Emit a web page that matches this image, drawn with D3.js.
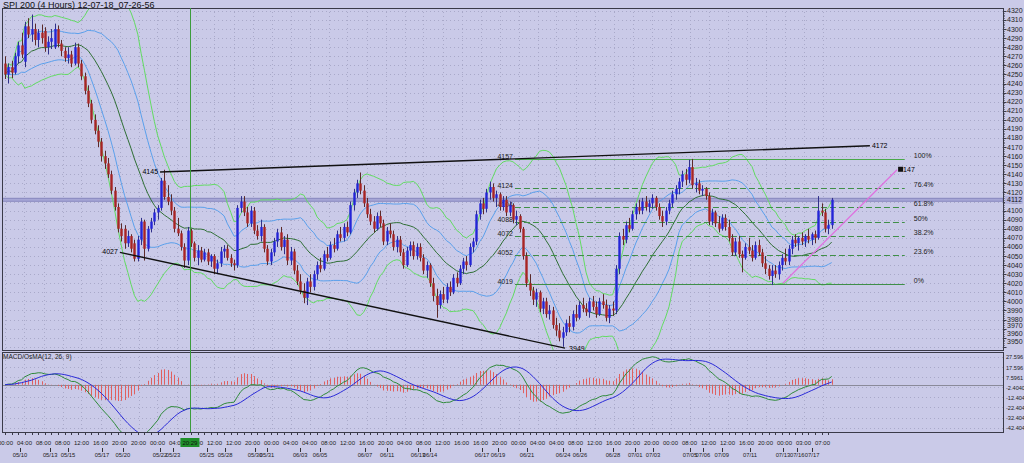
<!DOCTYPE html>
<html><head><meta charset="utf-8">
<script src="https://cdn.jsdelivr.net/npm/d3@7"></script>
<style>body{margin:0;background:#cacae8;}svg{display:block;font-family:"Liberation Sans",Arial,sans-serif;}</style>
</head><body><svg id="c" width="1024" height="463"></svg>
<script>
const opens=[4262,4250,4258,4252,4270,4282,4264,4303,4294,4300,
4288,4296,4298,4280,4286,4280,4300,4284,4276,4268,
4272,4262,4280,4262,4248,4232,4218,4200,4188,4176,
4160,4152,4140,4122,4104,4080,4080,4064,4072,4064,
4047,4068,4088,4058,4080,4088,4098,4103,4133,4115,
4110,4100,4080,4075,4060,4045,4078,4064,4048,4056,
4046,4054,4044,4050,4036,4042,4055,4058,4048,4042,
4040,4103,4110,4098,4086,4100,4078,4072,4082,4058,
4044,4054,4066,4076,4060,4068,4045,4055,4034,4022,
4012,4004,4022,4016,4030,4040,4036,4052,4048,4062,
4058,4074,4070,4082,4076,4106,4120,4130,4122,4108,
4096,4088,4080,4094,4086,4066,4078,4074,4060,4068,
4054,4040,4056,4062,4050,4060,4048,4034,4040,4020,
4006,3996,4008,4002,4016,4010,4026,4020,4036,4044,
4040,4060,4066,4096,4108,4102,4120,4126,4114,4118,
4104,4112,4098,4106,4090,4094,4080,4050,4020,4012,
4002,4010,3992,4000,3986,3990,3974,3968,3960,3966,
3976,3972,3986,3982,3996,3992,3988,4000,3994,3986,
4000,3996,3982,3992,3990,4036,4072,4068,4084,4080,
4096,4104,4100,4110,4104,4108,4114,4104,4094,4088,
4100,4108,4118,4124,4132,4140,4134,4148,4128,4130,
4122,4124,4116,4088,4098,4086,4080,4092,4082,4070,
4054,4066,4052,4048,4060,4056,4048,4062,4054,4042,
4036,4028,4034,4030,4040,4048,4044,4058,4068,4064,
4070,4066,4072,4068,4074,4070,4100,4098,4080,4084];
const highs=[4270,4262,4265,4274,4286,4296,4308,4312,4316,4306,
4300,4305,4302,4292,4300,4306,4304,4288,4280,4280,
4276,4285,4284,4266,4252,4238,4222,4206,4194,4180,
4166,4158,4144,4126,4108,4086,4084,4078,4074,4068,
4072,4092,4090,4083,4092,4102,4106,4136,4145,4128,
4118,4104,4092,4078,4064,4082,4080,4066,4062,4060,
4058,4058,4052,4052,4046,4060,4062,4062,4052,4046,
4106,4116,4116,4104,4105,4104,4084,4090,4085,4062,
4058,4070,4080,4082,4072,4074,4060,4058,4040,4030,
4020,4026,4030,4034,4044,4048,4056,4060,4066,4070,
4078,4082,4086,4088,4110,4124,4134,4142,4128,4114,
4102,4094,4098,4100,4090,4082,4086,4078,4072,4072,
4058,4060,4066,4066,4064,4064,4052,4044,4042,4026,
4014,4012,4016,4020,4022,4030,4032,4040,4048,4050,
4064,4070,4100,4112,4114,4124,4132,4130,4122,4120,
4116,4116,4110,4108,4100,4096,4082,4054,4030,4016,
4014,4012,4004,4004,3996,3994,3982,3976,3972,3980,
3984,3990,3996,4000,4004,3998,4004,4006,4000,4004,
4008,4002,3996,4000,4040,4076,4080,4088,4092,4100,
4108,4112,4114,4116,4112,4118,4116,4108,4100,4104,
4112,4122,4128,4136,4144,4146,4156,4157,4136,4134,
4128,4126,4120,4102,4100,4094,4096,4096,4090,4074,
4070,4072,4056,4064,4070,4062,4066,4068,4058,4050,
4040,4040,4040,4044,4052,4058,4062,4072,4074,4072,
4076,4074,4080,4076,4078,4116,4108,4102,4090,4114];
const lows=[4245,4240,4246,4250,4262,4268,4258,4290,4286,4282,
4280,4284,4275,4272,4278,4278,4280,4270,4264,4262,
4258,4260,4258,4244,4228,4214,4196,4184,4170,4154,
4146,4136,4118,4100,4076,4066,4058,4060,4054,4044,
4044,4062,4045,4055,4076,4084,4090,4100,4112,4106,
4095,4076,4072,4056,4037,4040,4060,4044,4040,4043,
4044,4040,4038,4030,4030,4038,4048,4045,4038,4034,
4037,4098,4094,4082,4082,4074,4068,4066,4054,4040,
4040,4050,4060,4056,4052,4040,4040,4030,4018,4008,
3998,3996,4010,4012,4024,4032,4034,4044,4046,4054,
4056,4066,4066,4072,4074,4100,4114,4118,4104,4092,
4084,4076,4078,4082,4062,4062,4070,4056,4054,4050,
4036,4038,4050,4046,4046,4044,4030,4026,4016,4000,
3982,3992,3998,3998,4006,4008,4016,4018,4030,4034,
4038,4054,4062,4090,4096,4098,4112,4110,4104,4100,
4100,4094,4094,4086,4084,4076,4046,4016,4006,3996,
3994,3988,3986,3982,3980,3970,3962,3956,3950,3962,
3966,3968,3978,3980,3988,3984,3982,3990,3982,3984,
3992,3978,3976,3984,3986,4030,4062,4064,4076,4078,
4090,4096,4096,4100,4098,4102,4100,4090,4082,4084,
4096,4104,4112,4118,4126,4128,4130,4124,4120,4118,
4116,4112,4084,4084,4082,4076,4078,4078,4066,4050,
4050,4048,4032,4046,4052,4044,4046,4050,4038,4030,
4024,4018,4026,4024,4034,4040,4040,4052,4060,4056,
4062,4060,4064,4062,4064,4068,4094,4076,4074,4080];
const closes=[4250,4258,4252,4270,4282,4272,4303,4294,4300,4288,
4296,4290,4280,4286,4290,4300,4284,4276,4268,4272,
4262,4280,4262,4248,4232,4218,4200,4188,4176,4160,
4152,4140,4122,4104,4080,4072,4064,4072,4058,4047,
4068,4088,4058,4080,4088,4098,4103,4133,4115,4110,
4100,4080,4075,4060,4045,4078,4064,4048,4056,4046,
4054,4044,4050,4036,4042,4055,4058,4048,4042,4040,
4103,4110,4098,4086,4100,4078,4072,4082,4058,4044,
4054,4066,4076,4060,4068,4045,4055,4034,4022,4012,
4004,4022,4016,4030,4040,4036,4052,4048,4062,4058,
4074,4070,4082,4076,4106,4120,4130,4122,4108,4096,
4088,4080,4094,4086,4066,4078,4074,4060,4068,4054,
4040,4056,4062,4050,4060,4048,4034,4040,4020,4006,
3996,4008,4002,4016,4010,4026,4020,4036,4044,4040,
4060,4066,4096,4108,4102,4120,4126,4114,4118,4104,
4112,4098,4106,4090,4094,4080,4050,4020,4012,4002,
4010,3992,4000,3986,3990,3974,3968,3960,3966,3976,
3972,3986,3982,3996,3992,3988,4000,3994,3986,4000,
3996,3982,3992,3990,4036,4072,4068,4084,4080,4096,
4104,4100,4110,4104,4108,4114,4104,4094,4088,4100,
4108,4118,4124,4132,4140,4134,4148,4128,4130,4122,
4124,4116,4088,4098,4086,4080,4092,4082,4070,4054,
4066,4052,4048,4060,4056,4048,4062,4054,4042,4036,
4028,4034,4030,4040,4048,4044,4058,4068,4064,4070,
4066,4072,4068,4074,4070,4100,4098,4080,4084,4112];

const priceTicks=d3.range(3950,4321,10);
const lastPrice=4112;
const macdTicks=[27.596,17.596,7.5961,-2.404,-12.404,-22.404,-32.404,-42.404];
const macdTickLabels=["27.596","17.596","7.5961","-2.4040","-12.404","-22.404","-32.404","-42.404"];
const timeLabels=["00:00","04:00","08:00","08:00","12:00","16:00","20:00","20:00","00:00","04:00","08:00","12:00","12:00","20:00","00:00","04:00","04:00","08:00","12:00","16:00","20:00","04:00","08:00","12:00","16:00","16:00","20:00","00:00","04:00","04:00","08:00","12:00","16:00","20:00","20:00","00:00","08:00","12:00","12:00","16:00","20:00","00:00","03:00","07:00"];
const timeLabelIdx=[0.15,5.87,11.6,17.32,23.04,28.77,34.49,40.21,45.93,51.66,57.38,63.1,68.83,74.55,80.27,86,91.72,97.44,103.16,108.89,114.61,120.33,126.05,131.78,137.5,143.22,148.95,154.67,160.39,166.11,171.84,177.56,183.28,189.01,194.73,200.45,206.17,211.9,217.62,223.34,229.07,234.79,240.51,246.23];
const dateLabels=["05/10","05/13","05/15","05/17","05/20","05/22","05/23","05/25","05/28","05/30","05/31","06/03","06/05","06/07","06/11","06/13","06/14","06/17","06/19","06/21","06/24","06/26","06/28","07/01","07/03","07/05","07/06","07/09","07/11","07/13","07/16","07/17"];
const dateLabelIdx=[4.5,13.6,19,29.2,35.5,46.7,50.6,60.8,66.3,75.3,78.9,88.9,94.9,108.4,115.1,124.4,128,143.7,148.5,157.2,168.1,173.2,183.1,189.8,195.2,206.3,210.2,215.9,224.4,234.3,238.6,243.1];
const cursorIdx=55.7, cursorLabel="20:29";
const fibLow=4019, fibHigh=4157, fibStartIdx=153.6, fibEndIdx=271;
const fibRatios=[1,0.764,0.618,0.5,0.382,0.236,0];
const fibRatioLabels=["100%","76.4%","61.8%","50%","38.2%","23.6%","0%"];
const fibPriceLabels=["4157","4124","4104","4088","4072","4052","4019"];
const upperTrend=[[46.7,4142.5],[260.5,4171.5]], upperTrendLabels=["4145","4172"];
const lowerTrend=[[34.6,4054],[168.7,3948.5]], lowerTrendLabels=["4027","3949"];
const pinkTrend=[[234.3,4020],[268.7,4145]], pinkLabel="147";
const title="SPI 200 (4 Hours) 12-07-18_07-26-56";
const macdTitle="MACD/OsMA(12, 26, 9)";

const W=1024,H=463, plotL=2, plotR=1003, mainT=8, mainB=350, macdT=352, macdB=432;
const N=closes.length;
const x=d3.scaleLinear().domain([0,249]).range([5,831.7]);
const y=d3.scaleLinear().domain([3950,4320]).range([346.8,10.9]);
const ym=d3.scaleLinear().domain([-42.404,27.596]).range([427.6,356.9]);
const bg="#cacae8", gridC="#a9a9c9", frameC="#3a3a48";
const svg=d3.select("#c");
svg.append("rect").attr("width",W).attr("height",H).attr("fill",bg);
const defs=svg.append("defs");
defs.append("clipPath").attr("id","cm").append("rect").attr("x",plotL).attr("y",mainT).attr("width",plotR-plotL).attr("height",mainB-mainT);
defs.append("clipPath").attr("id","cd").append("rect").attr("x",plotL).attr("y",macdT).attr("width",plotR-plotL).attr("height",macdB-macdT);

const bb=closes.map((c,i)=>{const w=closes.slice(Math.max(0,i-19),i+1);const m=d3.mean(w);const s=Math.sqrt(d3.mean(w,v=>(v-m)*(v-m)));return {i,m,s};});
function ema(arr,n){const a=2/(n+1);const out=[];arr.forEach((v,i)=>out.push(i?a*v+(1-a)*out[i-1]:v));return out;}
const e12=ema(closes,12), e26=ema(closes,26);
const macd=closes.map((c,i)=>e12[i]-e26[i]);
const signal=macd.map((v,i)=>d3.mean(macd.slice(Math.max(0,i-8),i+1)));
const osma=macd.map((v,i)=>v-signal[i]);

const gm=svg.append("g").attr("clip-path","url(#cm)");
gm.selectAll(".hg").data(priceTicks).join("line").attr("x1",plotL).attr("x2",plotR)
 .attr("y1",d=>Math.round(y(d))+0.5).attr("y2",d=>Math.round(y(d))+0.5)
 .attr("stroke",gridC).attr("stroke-dasharray","1,3");
gm.selectAll(".vg").data(timeLabelIdx).join("line").attr("x1",d=>Math.round(x(d))+0.5).attr("x2",d=>Math.round(x(d))+0.5)
 .attr("y1",mainT).attr("y2",mainB).attr("stroke",gridC).attr("stroke-dasharray","1,3");
gm.append("rect").attr("x",plotL).attr("y",y(lastPrice)-1.5).attr("width",plotR-plotL).attr("height",3)
 .attr("fill","#a6a6d6").attr("stroke","#7c7cb6").attr("stroke-width",0.8);
const ln=(f)=>d3.line().x(d=>x(d.i)).y(f);
[[d=>y(d.m+2*d.s),"#62dc62"],[d=>y(d.m-2*d.s),"#62dc62"],[d=>y(d.m+d.s),"#5aa0ec"],[d=>y(d.m-d.s),"#5aa0ec"],[d=>y(d.m),"#2f6f35"]]
 .forEach(([f,c])=>gm.append("path").datum(bb).attr("d",ln(f)).attr("fill","none").attr("stroke",c).attr("stroke-width",1));
fibRatios.forEach((r,k)=>{const p=fibLow+(fibHigh-fibLow)*r;const yy=Math.round(y(p))+0.5;
 gm.append("line").attr("x1",x(fibStartIdx)).attr("x2",x(fibEndIdx)).attr("y1",yy).attr("y2",yy)
  .attr("stroke",r===1?"#4aa84a":"#3f8f48").attr("stroke-width",1).attr("stroke-dasharray",r===1||r===0?null:"6,3");
 gm.append("text").attr("x",x(fibEndIdx)+9).attr("y",yy-2).attr("font-size",7).attr("fill","#222").text(fibRatioLabels[k]);
 gm.append("text").attr("x",x(fibStartIdx)-2).attr("y",yy-1).attr("text-anchor","end").attr("font-size",7).attr("fill","#222").text(fibPriceLabels[k]);
});
const idx=d3.range(N);
gm.selectAll(".wk").data(idx).join("line").attr("x1",i=>Math.round(x(i))+0.5).attr("x2",i=>Math.round(x(i))+0.5)
 .attr("y1",i=>y(highs[i])).attr("y2",i=>y(lows[i])).attr("stroke",i=>closes[i]>=opens[i]?"#30308a":"#5a2a2a").attr("stroke-width",1);
gm.selectAll(".bd").data(idx).join("rect").attr("x",i=>Math.round(x(i))-0.7).attr("width",2.4)
 .attr("y",i=>Math.min(y(opens[i]),y(closes[i]))).attr("height",i=>Math.max(1,Math.abs(y(opens[i])-y(closes[i]))))
 .attr("fill",i=>closes[i]>=opens[i]?"#2424d8":"#a82424");
function trend(pts,col,w){gm.append("line").attr("x1",x(pts[0][0])).attr("y1",y(pts[0][1])).attr("x2",x(pts[1][0])).attr("y2",y(pts[1][1])).attr("stroke",col).attr("stroke-width",w);}
trend(upperTrend,"#111",1.4); trend(lowerTrend,"#111",1.4); trend(pinkTrend,"#e070e0",1.2);
gm.append("text").attr("x",x(upperTrend[0][0])-2).attr("y",y(upperTrend[0][1])+2).attr("text-anchor","end").attr("font-size",7).text(upperTrendLabels[0]);
gm.append("text").attr("x",x(upperTrend[1][0])+2).attr("y",y(upperTrend[1][1])+2).attr("font-size",7).text(upperTrendLabels[1]);
gm.append("text").attr("x",x(lowerTrend[0][0])-2).attr("y",y(lowerTrend[0][1])+2).attr("text-anchor","end").attr("font-size",7).text(lowerTrendLabels[0]);
gm.append("text").attr("x",x(lowerTrend[1][0])+4).attr("y",y(lowerTrend[1][1])+3).attr("font-size",7).text(lowerTrendLabels[1]);
gm.append("rect").attr("x",x(pinkTrend[1][0])+1).attr("y",y(pinkTrend[1][1])-3).attr("width",5).attr("height",5).attr("fill","#111");
gm.append("text").attr("x",x(pinkTrend[1][0])+6).attr("y",y(pinkTrend[1][1])+2).attr("font-size",7).text(pinkLabel);
svg.append("rect").attr("x",plotL+0.5).attr("y",mainT+0.5).attr("width",plotR-plotL).attr("height",mainB-mainT).attr("fill","none").attr("stroke",frameC);
svg.append("text").attr("x",3).attr("y",7.5).attr("font-size",9).attr("fill","#111").text(title);
const ga=svg.append("g");
ga.selectAll(".pt").data(d3.range(3950,4321,2)).join("line").attr("x1",plotR+0.5).attr("x2",d=>plotR+(d%10===0?3.5:1.5))
 .attr("y1",d=>Math.round(y(d))+0.5).attr("y2",d=>Math.round(y(d))+0.5).attr("stroke",frameC);
const labY=d=>d===3970?325.5:d===3960?333.5:d===3950?341.5:y(d);
ga.selectAll(".pl").data(priceTicks).join("text").attr("x",plotR+4).attr("y",d=>labY(d)+2.5).attr("font-size",7).attr("fill","#222").text(d=>d);
ga.append("rect").attr("x",plotR+2).attr("y",y(lastPrice)-4).attr("width",18).attr("height",8).attr("fill","#b4b4de");
ga.append("text").attr("x",plotR+4).attr("y",y(lastPrice)+2.5).attr("font-size",7).attr("fill","#111").text(lastPrice);

const gd=svg.append("g").attr("clip-path","url(#cd)");
gd.selectAll(".mh").data(macdTicks).join("line").attr("x1",plotL).attr("x2",plotR).attr("y1",d=>Math.round(ym(d))+0.5).attr("y2",d=>Math.round(ym(d))+0.5)
 .attr("stroke",gridC).attr("stroke-dasharray","1,3");
gd.selectAll(".mv").data(timeLabelIdx).join("line").attr("x1",d=>Math.round(x(d))+0.5).attr("x2",d=>Math.round(x(d))+0.5)
 .attr("y1",macdT).attr("y2",macdB).attr("stroke",gridC).attr("stroke-dasharray","1,3");
gd.append("line").attr("x1",plotL).attr("x2",plotR).attr("y1",Math.round(ym(0))+0.5).attr("y2",Math.round(ym(0))+0.5).attr("stroke","#8a8a9a");
gd.selectAll(".hb").data(idx).join("line").attr("x1",i=>Math.round(x(i))+0.5).attr("x2",i=>Math.round(x(i))+0.5)
 .attr("y1",ym(0)).attr("y2",i=>ym(osma[i])).attr("stroke","#e06060").attr("stroke-width",1);
gd.append("path").datum(idx).attr("d",d3.line().x(i=>x(i)).y(i=>ym(macd[i]))).attr("fill","none").attr("stroke","#2f8a3a").attr("stroke-width",1);
gd.append("path").datum(idx).attr("d",d3.line().x(i=>x(i)).y(i=>ym(signal[i]))).attr("fill","none").attr("stroke","#2a2ad8").attr("stroke-width",1);
svg.append("rect").attr("x",plotL+0.5).attr("y",macdT+0.5).attr("width",plotR-plotL).attr("height",macdB-macdT).attr("fill","none").attr("stroke",frameC);
svg.append("text").attr("x",3).attr("y",macdT+7).attr("font-size",6.5).attr("fill","#222").text(macdTitle);
svg.selectAll(".ml").data(macdTicks).join("text").attr("x",plotR+3).attr("y",d=>ym(d)+2.5).attr("font-size",5.6).attr("fill","#222")
 .text((d,k)=>macdTickLabels[k]);
svg.append("line").attr("x1",Math.round(x(cursorIdx))+0.5).attr("x2",Math.round(x(cursorIdx))+0.5).attr("y1",mainT).attr("y2",macdB).attr("stroke","#3c9c3c");

svg.selectAll(".bt").data(d3.range(0,N,2)).join("line").attr("x1",i=>Math.round(x(i))+0.5).attr("x2",i=>Math.round(x(i))+0.5)
 .attr("y1",macdB+1).attr("y2",macdB+3).attr("stroke",frameC);
const cx=x(cursorIdx);
svg.selectAll(".tl").data(timeLabelIdx).join("text").attr("x",d=>x(d)).attr("y",445).attr("text-anchor","middle").attr("font-size",6).attr("fill","#222")
 .text((d,k)=>timeLabels[k]);
svg.selectAll(".dt").data(dateLabelIdx).join("line").attr("x1",d=>Math.round(x(d))+0.5).attr("x2",d=>Math.round(x(d))+0.5).attr("y1",448).attr("y2",452).attr("stroke","#333");
svg.selectAll(".dl").data(dateLabelIdx).join("text").attr("x",d=>x(d)).attr("y",457).attr("text-anchor","middle").attr("font-size",5.8).attr("fill","#222")
 .text((d,k)=>dateLabels[k]);
svg.append("rect").attr("x",cx-9.5).attr("y",438).attr("width",19).attr("height",9).attr("fill","#1f8f2a");
svg.append("text").attr("x",cx).attr("y",445).attr("text-anchor","middle").attr("font-size",6).attr("fill","#111").text(cursorLabel);
</script></body></html>
